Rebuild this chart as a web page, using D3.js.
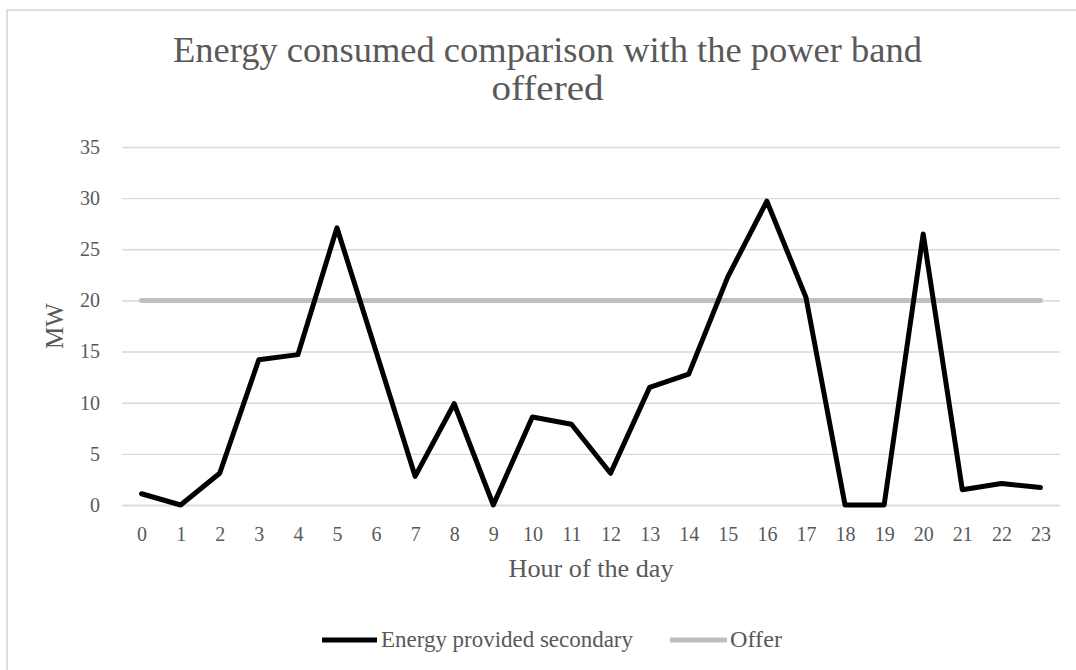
<!DOCTYPE html>
<html>
<head>
<meta charset="utf-8">
<script src="https://cdn.jsdelivr.net/npm/d3@7"></script>
<style>
  html, body { margin: 0; padding: 0; background: #fff; }
  svg { display: block; }
  text { font-family: "Liberation Serif", "DejaVu Serif", serif; fill: #595959; }
</style>
</head>
<body>
<svg id="chart" width="1076" height="670"></svg>
<script>
const hours = ["0","1","2","3","4","5","6","7","8","9","10","11","12","13","14","15","16","17","18","19","20","21","22","23"];
const energyProvided = [1.1, 0, 3.1, 14.2, 14.7, 27.1, 15.0, 2.8, 9.9, 0, 8.6, 7.9, 3.1, 11.5, 12.8, 22.3, 29.7, 20.3, 0, 0, 26.5, 1.5, 2.1, 1.7];
const offer = [20,20,20,20,20,20,20,20,20,20,20,20,20,20,20,20,20,20,20,20,20,20,20,20];
const yTicks = [0, 5, 10, 15, 20, 25, 30, 35];
const titleLines = ["Energy consumed comparison with the power band", "offered"];
const seriesNames = ["Energy provided secondary", "Offer"];
const xTitle = "Hour of the day";
const yTitle = "MW";

const svg = d3.select("#chart");
const plot = { left: 122, right: 1060, top: 147, bottom: 505 };

// chart border
svg.append("rect").attr("x", 7).attr("y", 10).attr("width", 1100).attr("height", 700)
  .attr("fill", "none").attr("stroke", "#D9D9D9").attr("stroke-width", 1.7);

const x = d3.scalePoint().domain(hours).range([plot.left, plot.right]).padding(0.5);
const y = d3.scaleLinear().domain([0, 35]).range([plot.bottom, plot.top]);

function fit(el, target) {
  const len = el.node().getComputedTextLength();
  if (Math.abs(len - target) > 3) el.attr("textLength", target).attr("lengthAdjust", "spacingAndGlyphs");
}

// gridlines + y labels
const yAxis = d3.axisLeft(y).tickValues(yTicks).tickSize(-(plot.right - plot.left)).tickPadding(22);
const gy = svg.append("g").attr("transform", `translate(${plot.left},0)`).call(yAxis);
gy.select(".domain").remove();
gy.selectAll(".tick line").attr("stroke", "#D9D9D9").attr("stroke-width", 1.4);
gy.selectAll(".tick text").style("font-size", "20px").attr("fill", "#595959")
  .attr("font-family", "Liberation Serif");

// x axis
const xAxis = d3.axisBottom(x).tickSize(0);
const gx = svg.append("g").attr("transform", `translate(0,${plot.bottom})`).call(xAxis);
gx.select(".domain").attr("stroke", "#D9D9D9").attr("stroke-width", 1.4);
gx.selectAll(".tick text").style("font-size", "20px").attr("fill", "#595959")
  .attr("font-family", "Liberation Serif").attr("y", 36).attr("dy", 0);

// lines
const line = d3.line().x((d, i) => x(hours[i])).y(d => y(d));
svg.append("path").datum(offer).attr("d", line)
  .attr("fill", "none").attr("stroke", "#BFBFBF").attr("stroke-width", 5)
  .attr("stroke-linecap", "round").attr("stroke-linejoin", "round");
svg.append("path").datum(energyProvided).attr("d", line)
  .attr("fill", "none").attr("stroke", "#000000").attr("stroke-width", 5)
  .attr("stroke-linecap", "round").attr("stroke-linejoin", "round");

// title
const tw = [749, 112];
const tb = [62, 100];
titleLines.forEach((t, i) => {
  const el = svg.append("text").attr("x", 547.5).attr("y", tb[i]).attr("text-anchor", "middle")
    .style("font-size", "35px").text(t);
  fit(el, tw[i]);
});

// axis titles
const xt = svg.append("text").attr("x", (plot.left + plot.right) / 2).attr("y", 577).attr("text-anchor", "middle")
  .style("font-size", "25px").text(xTitle);
fit(xt, 165);
const yt = svg.append("text").attr("transform", "translate(63,326) rotate(-90)").attr("text-anchor", "middle")
  .style("font-size", "25px").text(yTitle);
fit(yt, 45);

// legend
const legend = [
  { name: seriesNames[0], color: "#000000", x0: 322, x1: 377, tx: 381, tw: 252 },
  { name: seriesNames[1], color: "#BFBFBF", x0: 670, x1: 727, tx: 730, tw: 52 }
];
legend.forEach(l => {
  svg.append("line").attr("x1", l.x0).attr("x2", l.x1).attr("y1", 640).attr("y2", 640)
    .attr("stroke", l.color).attr("stroke-width", 5);
  const el = svg.append("text").attr("x", l.tx).attr("y", 647).style("font-size", "22.5px").text(l.name);
  fit(el, l.tw);
});
</script>
</body>
</html>
